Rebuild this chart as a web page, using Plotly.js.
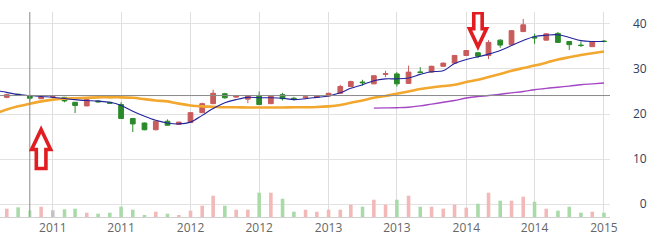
<!DOCTYPE html>
<html><head><meta charset="utf-8">
<script src="https://cdn.plot.ly/plotly-3.0.1.min.js"></script>
<style>html,body{margin:0;padding:0;background:#fff}#chart{width:657px;height:241px}</style>
</head><body><div id="chart"></div>
<script>
const months = ['2010-08-01','2010-09-01','2010-10-01','2010-11-01','2010-12-01',
 '2011-01-01','2011-02-01','2011-03-01','2011-04-01','2011-05-01','2011-06-01','2011-07-01','2011-08-01','2011-09-01','2011-10-01','2011-11-01','2011-12-01',
 '2012-01-01','2012-02-01','2012-03-01','2012-04-01','2012-05-01','2012-06-01','2012-07-01','2012-08-01','2012-09-01','2012-10-01','2012-11-01','2012-12-01',
 '2013-01-01','2013-02-01','2013-03-01','2013-04-01','2013-05-01','2013-06-01','2013-07-01','2013-08-01','2013-09-01','2013-10-01','2013-11-01','2013-12-01',
 '2014-01-01','2014-02-01','2014-03-01','2014-04-01','2014-05-01','2014-06-01','2014-07-01','2014-08-01','2014-09-01','2014-10-01','2014-11-01','2014-12-01',
 '2015-01-01'];
const open  = [24.3,23.7,24.4,24.1,23.4,23.9,23.7,22.6,21.8,22.9,22.6,22.1,19.0,18.0,16.5,18.4,17.7,18.1,20.3,22.3,24.5,23.75,23.3,24.1,22.3,24.3,23.5,23.6,23.7,24.0,24.6,26.1,27.1,26.7,28.8,28.9,26.8,29.35,29.3,30.6,31.3,33.0,33.6,33.0,36.4,35.4,38.3,37.1,36.4,37.9,36.1,35.3,34.95,36.2];
const high  = [24.5,24.5,24.5,24.3,23.9,24.1,23.8,22.7,23.3,23.1,22.7,22.6,19.1,18.1,18.5,18.8,18.3,20.4,22.5,25.4,24.7,24.2,24.2,25.0,24.2,24.7,23.8,24.1,24.2,24.7,26.5,27.4,27.6,28.6,29.6,29.3,30.75,30.4,30.7,31.4,33.1,34.2,33.8,36.4,36.6,38.6,41.1,37.8,37.9,38.2,36.2,36.1,36.2,36.4];
const low   = [23.8,23.5,24.1,22.8,23.3,23.7,22.6,20.2,21.7,22.6,22.3,18.9,16.0,16.4,16.4,17.4,17.6,18.0,20.2,22.2,23.4,23.6,22.4,22.0,22.2,23.0,23.0,23.3,23.6,23.9,24.5,26.0,26.3,26.6,28.2,26.1,26.7,29.1,29.2,30.5,31.2,32.9,32.4,32.2,34.7,35.3,38.2,35.6,36.3,35.8,34.2,34.9,34.9,35.9];
const close = [24.0,24.3,24.2,23.5,23.8,23.9,22.9,21.9,23.2,22.7,22.4,19.0,17.8,16.5,18.4,17.5,18.2,20.3,22.3,24.6,23.6,24.05,24.1,22.1,24.1,23.4,23.3,23.8,24.1,24.6,26.1,27.2,26.95,28.5,28.95,26.7,29.3,29.2,30.6,31.3,33.0,34.1,32.8,35.9,35.3,38.5,39.8,36.9,37.8,35.9,35.4,35.2,36.1,36.1];
const volume = [60,83,97,67,103,67,77,83,43,33,43,103,73,20,53,33,20,63,113,213,113,73,73,243,243,183,53,73,53,73,73,123,103,173,123,173,213,103,103,83,123,93,133,243,163,163,203,153,83,63,103,43,53,43];
const maShort = [25.2,24.8,24.3,24.1,23.9,23.7,23.45,23.2,23.0,22.85,22.6,21.9,20.6,19.5,18.6,18.0,17.8,18.2,19.7,21.2,22.5,23.2,23.7,23.6,23.6,23.5,23.2,23.4,23.7,24.0,24.7,25.7,26.5,27.4,27.8,27.8,28.0,28.8,29.4,29.6,31.2,32.1,32.7,33.3,34.1,35.2,36.3,37.2,37.5,37.6,37.0,36.3,36.1,36.1];
const maMid = [20.1,21.0,21.7,22.3,22.8,23.2,23.4,23.5,23.6,23.7,23.7,23.7,23.6,23.3,23.0,22.8,22.3,21.9,21.7,21.6,21.5,21.5,21.45,21.45,21.45,21.45,21.5,21.5,21.55,21.7,22.0,22.5,23.0,23.6,24.0,24.5,25.0,25.55,25.9,26.2,26.5,27.1,27.6,28.2,28.9,29.6,30.2,30.75,31.4,32.1,32.6,33.1,33.5,33.9];
const maLong = [null,null,null,null,null,null,null,null,null,null,null,null,null,null,null,null,null,null,null,null,null,null,null,null,null,null,null,null,null,null,null,null,null,21.3,21.35,21.4,21.5,21.8,22.2,22.6,23.0,23.55,23.9,24.1,24.4,24.7,25.0,25.4,25.7,25.95,26.2,26.5,26.7,26.9];
const yTickVals = [0,10,20,30,40];
const yTickText = ['\u20070','10','20','30','40'];
const hoverIdx = 3;
const upArrowIdx = 4, upArrowTip = 17.0;
const downArrowIdx = 42, downArrowTip = 34.5;

const volColors = volume.map((v,i)=>{
  if(i===hoverIdx) return '#c6ebc6';
  if(close[i]>open[i]) return '#f3b9b9';
  if(close[i]<open[i]) return '#a9dba9';
  return '#c4c4c4';
});
const dayMs = 86400000;

const traces = [
 {type:'bar', x:months, y:volume, yaxis:'y2', marker:{color:volColors}, width:9.5*dayMs, hoverinfo:'skip'},
 {type:'scatter', mode:'lines', x:months, y:maMid, line:{color:'#f2a72e', width:2.6, shape:'spline'}, hoverinfo:'skip'},
 {type:'scatter', mode:'lines', x:months, y:maLong, line:{color:'#a445c4', width:1.4, shape:'spline'}, hoverinfo:'skip'},
 {type:'candlestick', x:months, open:open, high:high, low:low, close:close,
  increasing:{line:{color:'#c85c5c', width:1}, fillcolor:'#c85c5c'},
  decreasing:{line:{color:'#2a8a2a', width:1}, fillcolor:'#2a8a2a'},
  whiskerwidth:0, hoverinfo:'skip'},
 {type:'scatter', mode:'lines', x:months, y:maShort, line:{color:'#24249c', width:1.1, shape:'spline'}, hoverinfo:'skip'}
];

const upPath = 'M0,-2 L9.5,-22 L4.8,-22 L4.8,-41 L-4.8,-41 L-4.8,-22 L-9.5,-22 Z';
const downPath = 'M0,2 L8.5,20 L4.2,20 L4.2,36 L-4.2,36 L-4.2,20 L-8.5,20 Z';

const layout = {
 width:657, height:241,
 margin:{l:0, r:47, t:12, b:24},
 paper_bgcolor:'#fff', plot_bgcolor:'#fff',
 showlegend:false, hovermode:false, dragmode:false,
 boxgap:0.36,
 xaxis:{type:'date', range:['2010-08-14','2015-01-17'], tick0:'2011-01-01', dtick:'M6', tickformat:'%Y',
   showgrid:true, gridcolor:'#dedede', gridwidth:1, showline:true, linecolor:'#d0d0d0', zeroline:false,
   rangeslider:{visible:false}, tickfont:{family:'Open Sans', size:12, color:'#666'}, ticks:'', fixedrange:true},
 yaxis:{side:'right', range:[-2.87,42.65], tickvals:yTickVals, ticktext:yTickText, showgrid:true, gridcolor:'#e2e2e2',
   zeroline:false, ticks:'', ticklabelstandoff:22, tickfont:{family:'Open Sans', size:12, color:'#2e3f62'}, fixedrange:true},
 yaxis2:{overlaying:'y', range:[0,2050], visible:false, fixedrange:true},
 shapes:[
  {type:'line', xref:'x', yref:'paper', x0:months[hoverIdx], x1:months[hoverIdx], y0:0, y1:1, line:{color:'#8a8a8a', width:1}},
  {type:'line', xref:'paper', yref:'y', x0:0, x1:1, y0:open[hoverIdx], y1:open[hoverIdx], line:{color:'#8a8a8a', width:1}},
  {type:'path', xref:'x', yref:'y', xsizemode:'pixel', ysizemode:'pixel', xanchor:months[upArrowIdx], yanchor:upArrowTip,
   path:upPath, line:{color:'#e11d22', width:3.6}, fillcolor:'#ffffff'},
  {type:'path', xref:'x', yref:'y', xsizemode:'pixel', ysizemode:'pixel', xanchor:months[downArrowIdx], yanchor:downArrowTip,
   path:downPath, line:{color:'#e11d22', width:3.6}, fillcolor:'#ffffff'}
 ]
};
Plotly.newPlot('chart', traces, layout, {displayModeBar:false, staticPlot:true});
</script></body></html>
